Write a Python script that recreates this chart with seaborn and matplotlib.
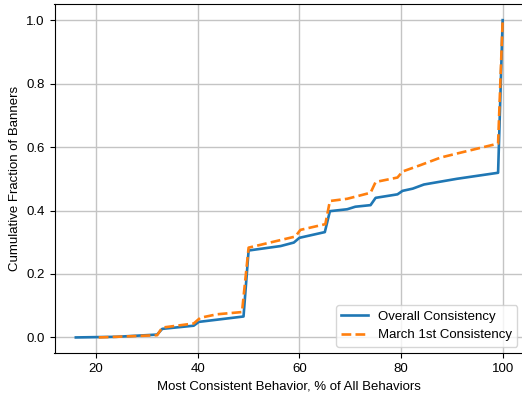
import matplotlib
matplotlib.use("Agg")
import matplotlib.pyplot as plt
import seaborn as sns
import pandas as pd

# Cumulative share of banners vs. how consistent their most common behaviour is
overall_pct = [16, 24, 32, 33, 39.2, 40.2, 49, 50, 56.3, 58.9, 60, 65, 66,
               69.4, 71, 74, 75, 79.3, 80.3, 82.3, 84.5, 91, 99.1, 100]
overall_cdf = [0.0, 0.002, 0.009, 0.027, 0.037, 0.049, 0.066, 0.274, 0.288,
               0.299, 0.314, 0.332, 0.398, 0.404, 0.412, 0.417, 0.440, 0.451,
               0.462, 0.469, 0.482, 0.500, 0.519, 1.0]

march_pct = [20.5, 24, 32, 33, 39.2, 40.5, 43.8, 48.7, 50, 59.2, 60.2, 65.1,
             66, 69.4, 74, 75, 79.3, 80.3, 83.8, 87.8, 91.1, 99.1, 100]
march_cdf = [0.0, 0.002, 0.007, 0.031, 0.044, 0.062, 0.073, 0.080, 0.283,
             0.318, 0.339, 0.357, 0.430, 0.437, 0.456, 0.490, 0.504, 0.523,
             0.543, 0.567, 0.580, 0.611, 1.0]

series_names = ["Overall Consistency", "March 1st Consistency"]
x_ticks = [20, 40, 60, 80, 100]
y_ticks = [0.0, 0.2, 0.4, 0.6, 0.8, 1.0]

plt.rcParams["font.family"] = ["Liberation Sans", "DejaVu Sans"]
plt.rcParams["font.size"] = 9.5
plt.rcParams["axes.linewidth"] = 0.8

fig = plt.figure(figsize=(5.22, 3.98), dpi=100)
W, H = 522, 398
left, right, top, bottom = 54.5, 524, 4.3, 353.3
ax = fig.add_axes([left / W, (H - bottom) / H, (right - left) / W, (bottom - top) / H])

overall = pd.DataFrame({"pct": overall_pct, "cdf": overall_cdf})
march = pd.DataFrame({"pct": march_pct, "cdf": march_cdf})

sns.lineplot(data=overall, x="pct", y="cdf", sort=False, estimator=None,
             color="#1f77b4", linewidth=1.9, label=series_names[0], ax=ax)
sns.lineplot(data=march, x="pct", y="cdf", sort=False, estimator=None,
             color="#ff7f0e", linewidth=1.9, linestyle="--",
             label=series_names[1], ax=ax)

ax.set_xlim(11.8, 104.2)
ax.set_ylim(-0.05, 1.05)
ax.set_xticks(x_ticks)
ax.set_yticks(y_ticks)
ax.set_yticklabels([f"{v:.1f}" for v in y_ticks])
ax.grid(True, color="#c4c4c4", linewidth=1.0)
ax.set_axisbelow(True)
ax.set_xlabel("Most Consistent Behavior, % of All Behaviors")
ax.set_ylabel("Cumulative Fraction of Banners")
ax.legend(loc="lower right", fontsize=9.5)

fig.savefig("out.png", dpi=100)
